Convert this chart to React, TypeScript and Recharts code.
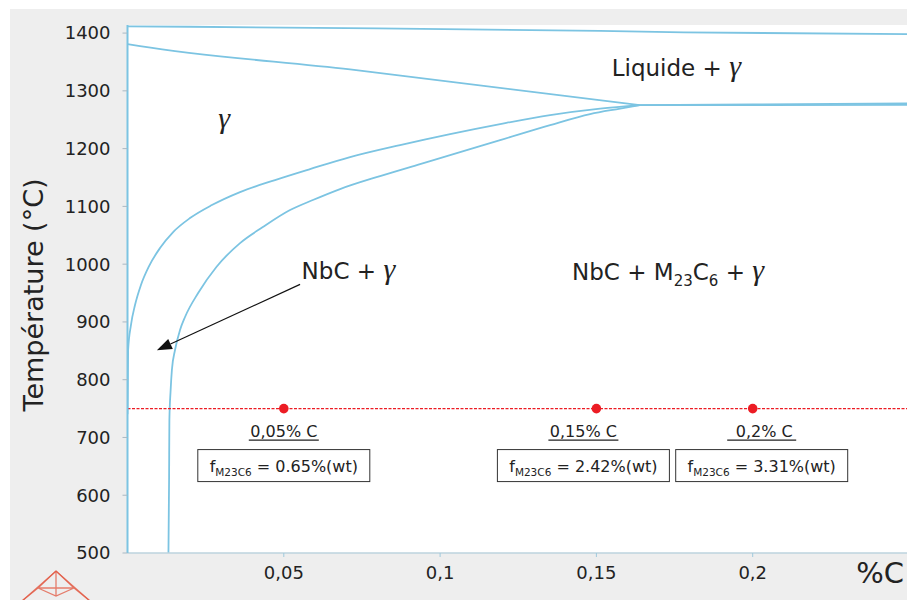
import React from "react";
import {
  ComposedChart,
  Line,
  XAxis,
  YAxis,
  CartesianGrid,
  ReferenceLine,
  ReferenceDot,
} from "recharts";

// axis ticks
const xTicks = [0.05, 0.1, 0.15, 0.2];
const yTicks = [500, 600, 700, 800, 900, 1000, 1100, 1200, 1300, 1400];

// liquidus (top line)
const liquidusC = [0, 0.02, 0.08, 0.151, 0.178, 0.25];
const liquidusT = [1411.5, 1411, 1408, 1404, 1401.2, 1398.3];

// solidus, from the left axis to the triple point
const solidusC = [0, 0.004, 0.0712, 0.1639];
const solidusT = [1381, 1377.5, 1337, 1275.4];

// the two lines right of the triple point
const upperRightC = [0.1639, 0.2, 0.25];
const upperRightT = [1275.4, 1276.6, 1278.4];
const lowerRightC = [0.1639, 0.2, 0.25];
const lowerRightT = [1275.4, 1275.4, 1275.6];

// NbC solvus (inner curve)
const nbcC = [0, 0.0001, 0.0002, 0.0011, 0.0024, 0.0043, 0.0069, 0.0104, 0.0146, 0.02, 0.027,
  0.036, 0.0472, 0.0584, 0.0712, 0.0872, 0.1032, 0.1192, 0.1352, 0.1512, 0.1639];
const nbcT = [740, 794.3, 851.4, 894.6, 929.2, 963.9, 996.7, 1027.9, 1055.6, 1079.8, 1102.3,
  1124.8, 1145.6, 1164.6, 1185.4, 1206.2, 1225.2, 1242.5, 1258.1, 1269.3, 1275.4];

// M23C6 solvus (outer curve)
const m23C = [0.0131, 0.0133, 0.0134, 0.0138, 0.0142, 0.0152, 0.0168, 0.0184, 0.0226, 0.0285,
  0.036, 0.0433, 0.052, 0.0593, 0.068, 0.0808, 0.0936, 0.1032, 0.1192, 0.1352, 0.148, 0.1576, 0.1639];
const m23T = [500, 626.4, 730.2, 782.1, 816.7, 851.4, 886, 908.5, 950, 995.5,
  1036.5, 1064.2, 1093.7, 1111, 1130, 1152.5, 1173.3, 1188.9, 1214.8, 1240.8, 1259.8, 1269.3, 1275.4];

// samples at 750 °C
const sampleT = 750;
const samplesC = [0.05, 0.15, 0.2];
const sampleNames = ["0,05% C", "0,15% C", "\u00a00,2% C"];
const sampleFractions = ["0.65", "2.42", "3.31"];

// phase labels (anchor = start of text, baseline)
const liquideAt = { c: 0.1549, t: 1325 };
const gammaAt = { c: 0.029, t: 1236 };
const nbcAt = { c: 0.0557, t: 975 };
const threePhaseAt = { c: 0.1422, t: 972 };
const arrowFrom = { c: 0.0552, t: 965 };
const arrowTo = { c: 0.0094, t: 851 };

const zip = (cs: number[], ts: number[]) => cs.map((c, i) => ({ c, t: ts[i] }));

const FONT = "'DejaVu Sans', Verdana, sans-serif";
const GREEK = "'Liberation Serif', 'DejaVu Serif', serif";
const BLUE = "#7cc4e2";
const RED = "#ec1c24";
const INK = "#222";

const Gamma = () => (
  <tspan fontFamily={GREEK} fontStyle="italic" fontSize={30}>
    γ
  </tspan>
);

const phaseLabel = (kind: string) => (props: any) => {
  const vb = props.viewBox || {};
  const x = vb.x + (vb.width || 0) / 2;
  const y = vb.y + (vb.height || 0) / 2;
  return (
    <text x={x} y={y} fill={INK} fontFamily={FONT} fontSize={23}>
      {kind === "liq" && (
        <>
          <tspan>Liquide + </tspan>
          <Gamma />
        </>
      )}
      {kind === "gamma" && <Gamma />}
      {kind === "nbc" && (
        <>
          <tspan>NbC + </tspan>
          <Gamma />
        </>
      )}
      {kind === "three" && (
        <>
          <tspan>NbC + M</tspan>
          <tspan fontSize={15} dy={6}>23</tspan>
          <tspan dy={-6}>C</tspan>
          <tspan fontSize={15} dy={6}>6</tspan>
          <tspan dy={-6}> + </tspan>
          <Gamma />
        </>
      )}
    </text>
  );
};

const labelShift = [0, -13, 9];

const sampleLabel = (i: number) => (props: any) => {
  const vb = props.viewBox || {};
  const cx = vb.x + (vb.width || 0) / 2 + labelShift[i];
  const cy = vb.y + (vb.height || 0) / 2;
  const uw = i === 2 ? 69 : 70;
  return (
    <g fontFamily={FONT} fill={INK}>
      <text x={cx} y={cy + 28} textAnchor="middle" fontSize={16} fill={INK}>
        {sampleNames[i]}
      </text>
      <line x1={cx - uw / 2} x2={cx + uw / 2} y1={cy + 31.5} y2={cy + 31.5} stroke={INK} strokeWidth={1.2} />
      <rect x={cx - 86} y={cy + 41} width={172} height={32} fill="#fff" stroke="#333" strokeWidth={1} />
      <text x={cx} y={cy + 63} textAnchor="middle" fontSize={16} fill={INK}>
        <tspan>f</tspan>
        <tspan fontSize={10.5} dy={4}>M23C6</tspan>
        <tspan dy={-4}> = {sampleFractions[i]}%(wt)</tspan>
      </text>
    </g>
  );
};

const ArrowShape = (props: any) => {
  const { x1, y1, x2, y2 } = props;
  if ([x1, y1, x2, y2].some((v) => typeof v !== "number" || isNaN(v))) return null;
  const ang = Math.atan2(y2 - y1, x2 - x1);
  const len = 15;
  const half = 5.5;
  const bx = x2 - len * Math.cos(ang);
  const by = y2 - len * Math.sin(ang);
  const px = -Math.sin(ang) * half;
  const py = Math.cos(ang) * half;
  return (
    <g>
      <line x1={x1} y1={y1} x2={bx} y2={by} stroke="#111" strokeWidth={1.2} />
      <polygon points={`${x2},${y2} ${bx + px},${by + py} ${bx - px},${by - py}`} fill="#111" />
    </g>
  );
};

const yTitle = (props: any) => {
  const vb = props.viewBox || {};
  const cx = vb.x + 23;
  const cy = vb.y + vb.height / 2 + 6;
  return (
    <text
      x={cx}
      y={cy}
      transform={`rotate(-90, ${cx}, ${cy})`}
      textAnchor="middle"
      dominantBaseline="central"
      fontFamily={FONT}
      fontSize={27}
      fill={INK}
    >
      Température (°C)
    </text>
  );
};

const xTitle = (props: any) => {
  const vb = props.viewBox || {};
  return (
    <text x={vb.x + vb.width - 5} y={vb.y + 30} textAnchor="end" fontFamily={FONT} fontSize={29} fill={INK}>
      %C
    </text>
  );
};

const curves = [
  { key: "liquidus", data: zip(liquidusC, liquidusT), type: "linear" },
  { key: "solidus", data: zip(solidusC, solidusT), type: "monotone" },
  { key: "upperRight", data: zip(upperRightC, upperRightT), type: "linear" },
  { key: "lowerRight", data: zip(lowerRightC, lowerRightT), type: "linear" },
  { key: "nbc", data: zip(nbcC, nbcT), type: "monotone" },
  { key: "m23", data: zip(m23C, m23T), type: "monotone" },
];

const App: React.FC = () => {
  return (
    <div style={{ position: "absolute", left: 0, top: 0, width: 907, height: 600, overflow: "hidden", background: "#fff" }}>
      <div style={{ position: "absolute", left: 10, top: 9, right: 0, bottom: 0, background: "#eeeeee" }} />
      <div style={{ position: "absolute", left: 0, top: 0 }}>
        <ComposedChart width={910} height={600} margin={{ top: 25, right: 1, bottom: 17, left: 10 }}>
          <CartesianGrid horizontal={false} vertical={false} fill="#fff" stroke="none" />
          <XAxis
            type="number"
            dataKey="c"
            domain={[0, 0.25]}
            ticks={xTicks}
            allowDataOverflow
            height={30}
            tickSize={4}
            tickMargin={9}
            tickFormatter={(v: number) => String(v).replace(".", ",")}
            tick={{ fill: INK, fontSize: 18, fontFamily: FONT }}
            axisLine={{ stroke: "#bcd3de", strokeWidth: 1.5 }}
            tickLine={{ stroke: "#9fc9dc" }}
            label={{ content: xTitle }}
          />
          <YAxis
            type="number"
            domain={[500, 1414]}
            ticks={yTicks}
            allowDataOverflow
            width={117.5}
            tickSize={5}
            tickMargin={12}
            tick={{ fill: INK, fontSize: 18, fontFamily: FONT }}
            axisLine={{ stroke: BLUE, strokeWidth: 2 }}
            tickLine={{ stroke: "#a9b9c4" }}
            label={{ content: yTitle }}
          />
          {curves.map((s) => (
            <Line
              key={s.key}
              data={s.data}
              dataKey="t"
              type={s.type as any}
              stroke={BLUE}
              strokeWidth={1.8}
              dot={false}
              activeDot={false}
              isAnimationActive={false}
            />
          ))}
          <ReferenceLine y={sampleT} stroke={RED} strokeWidth={1.2} strokeDasharray="3 1.5" />
          {samplesC.map((c, i) => (
            <ReferenceDot
              key={c}
              x={c}
              y={sampleT}
              r={4.8}
              fill={RED}
              stroke="none"
              label={sampleLabel(i)}
            />
          ))}
          <ReferenceDot x={liquideAt.c} y={liquideAt.t} r={0} fill="none" stroke="none" label={phaseLabel("liq")} />
          <ReferenceDot x={gammaAt.c} y={gammaAt.t} r={0} fill="none" stroke="none" label={phaseLabel("gamma")} />
          <ReferenceDot x={nbcAt.c} y={nbcAt.t} r={0} fill="none" stroke="none" label={phaseLabel("nbc")} />
          <ReferenceDot x={threePhaseAt.c} y={threePhaseAt.t} r={0} fill="none" stroke="none" label={phaseLabel("three")} />
          <ReferenceLine
            segment={[
              { x: arrowFrom.c, y: arrowFrom.t },
              { x: arrowTo.c, y: arrowTo.t },
            ]}
            shape={ArrowShape}
          />
        </ComposedChart>
      </div>
      {/* logo, bottom left */}
      <svg width={907} height={600} style={{ position: "absolute", left: 0, top: 0, pointerEvents: "none" }}>
        <g stroke="#e2553f" strokeOpacity={0.75} strokeWidth={1.3} fill="none">
          <path d="M22,601 L56,571 L90,601" />
          <path d="M56,571 L56,589 M38,588 L74,588 M56,571 L38,588 M56,571 L74,588 M38,588 L56,596 L74,588 M56,589 L56,596" />
          <path d="M38,588 L22,601 M74,588 L90,601" />
        </g>
      </svg>
    </div>
  );
};

export default App;
